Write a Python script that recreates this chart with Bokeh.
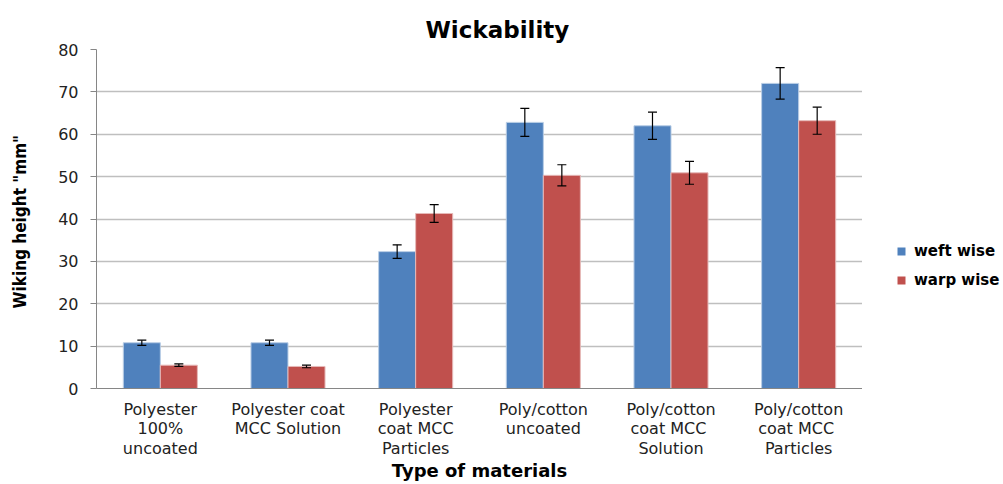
from bokeh.plotting import figure
from bokeh.layouts import row
from bokeh.models import (ColumnDataSource, FactorRange, Whisker, Legend, LegendItem,
                          SingleIntervalTicker, Range1d)
from bokeh.transform import dodge
from bokeh.embed import file_html
from bokeh.resources import INLINE

categories = ["Polyester\n100%\nuncoated", "Polyester coat\nMCC Solution",
              "Polyester\ncoat MCC\nParticles", "Poly/cotton\nuncoated",
              "Poly/cotton\ncoat  MCC\nSolution", "Poly/cotton\ncoat  MCC\nParticles"]
series = ["weft wise", "warp wise"]
weft = [10.8, 10.8, 32.3, 62.8, 62.0, 72.0]
weft_err = [0.6, 0.6, 1.6, 3.3, 3.2, 3.7]
warp = [5.5, 5.2, 41.3, 50.3, 50.9, 63.2]
warp_err = [0.3, 0.3, 2.1, 2.5, 2.7, 3.2]

src = ColumnDataSource(dict(
    cat=categories, weft=weft, warp=warp,
    weft_lo=[v - e for v, e in zip(weft, weft_err)],
    weft_hi=[v + e for v, e in zip(weft, weft_err)],
    warp_lo=[v - e for v, e in zip(warp, warp_err)],
    warp_hi=[v + e for v, e in zip(warp, warp_err)],
))

BLUE = "#4F81BD"
RED = "#C0504D"
W_TOTAL, H = 1003, 484
LEG_W = 141
TOP, BOTTOM = 49, 94

p = figure(x_range=FactorRange(*categories), y_range=(0, 80), width=W_TOTAL - LEG_W, height=H,
           output_backend="svg", toolbar_location=None,
           min_border_left=96, min_border_right=0, min_border_bottom=BOTTOM, min_border_top=TOP)
p.title.text = "Wickability"
p.title.align = "left"
p.title.text_font = "DejaVu Sans"
p.title.text_font_size = "23px"
p.title.text_font_style = "bold"
p.title.text_color = "black"
p.title.offset = 329
p.title.standoff = 14

w = 0.29
r1 = p.vbar(x=dodge("cat", -w / 2, range=p.x_range), top="weft", width=w, source=src,
            fill_color=BLUE, line_color="#B9CDE5", line_width=1)
r2 = p.vbar(x=dodge("cat", w / 2, range=p.x_range), top="warp", width=w, source=src,
            fill_color=RED, line_color="#E6B9B8", line_width=1)

for base, lo, hi in [(-w / 2, "weft_lo", "weft_hi"), (w / 2, "warp_lo", "warp_hi")]:
    wk = Whisker(base=dodge("cat", base, range=p.x_range), lower=lo, upper=hi,
                 source=src, line_color="black", line_width=1.2, level="overlay")
    wk.upper_head.size = 9
    wk.lower_head.size = 9
    wk.upper_head.line_color = "black"
    wk.lower_head.line_color = "black"
    wk.upper_head.line_width = 1.2
    wk.lower_head.line_width = 1.2
    p.add_layout(wk)

p.yaxis.ticker = SingleIntervalTicker(interval=10)
p.yaxis.minor_tick_line_color = None
p.yaxis.major_tick_in = 0
p.yaxis.major_tick_out = 6
p.yaxis.axis_line_color = "#868686"
p.yaxis.major_tick_line_color = "#868686"
p.yaxis.major_label_text_font = "DejaVu Sans"
p.yaxis.major_label_text_font_size = "16px"
p.yaxis.major_label_text_color = "#222222"
p.yaxis.major_label_standoff = 12
p.yaxis.axis_label = 'Wiking height  "mm"'
p.yaxis.axis_label_text_font = "DejaVu Sans Condensed"
p.yaxis.axis_label_text_font_style = "bold"
p.yaxis.axis_label_text_font_size = "17px"
p.yaxis.axis_label_text_color = "black"
p.yaxis.axis_label_standoff = 25

p.xaxis.axis_line_color = "#868686"
p.xaxis.major_tick_line_color = None
p.xaxis.major_label_text_font = "DejaVu Sans"
p.xaxis.major_label_text_font_size = "16px"
p.xaxis.major_label_text_line_height = 1.05
p.xaxis.major_label_text_color = "#222222"
p.xaxis.major_label_standoff = 5
p.xaxis.axis_label = "Type of materials"
p.xaxis.axis_label_text_font = "DejaVu Sans"
p.xaxis.axis_label_text_font_style = "bold"
p.xaxis.axis_label_text_font_size = "18px"
p.xaxis.axis_label_text_color = "black"
p.xaxis.axis_label_standoff = -1

p.xgrid.grid_line_color = None
p.ygrid.grid_line_color = "#BFBFBF"
p.ygrid.grid_line_width = 1.3
p.outline_line_color = None
p.x_range.range_padding = 0
p.x_range.group_padding = 0

# legend panel on the right (its renderers are hidden; only the legend shows)
pl = figure(width=LEG_W, height=H, x_range=FactorRange(*categories), y_range=Range1d(1000, 2000),
            x_axis_type=None, y_axis_type=None, output_backend="svg",
            toolbar_location=None, min_border_left=0, min_border_right=0,
            min_border_top=TOP, min_border_bottom=BOTTOM, outline_line_color=None)
pl.grid.visible = False
l1 = pl.vbar(x="cat", top="weft", width=0.3, source=src, fill_color=BLUE, line_color=None,
             visible=False)
l2 = pl.vbar(x="cat", top="warp", width=0.3, source=src, fill_color=RED, line_color=None,
             visible=False)
legend = Legend(items=[LegendItem(label=series[0], renderers=[l1]),
                       LegendItem(label=series[1], renderers=[l2])],
                location=(34, 98), label_text_font="DejaVu Sans",
                label_text_font_size="15px", label_text_font_style="bold",
                label_text_color="black", label_height=20, inactive_fill_alpha=0,
                glyph_width=10, glyph_height=10, spacing=9, border_line_color=None,
                background_fill_alpha=0, padding=0, margin=0, label_standoff=8)
pl.add_layout(legend)

open("out.html", "w").write(file_html(row(p, pl), INLINE))
